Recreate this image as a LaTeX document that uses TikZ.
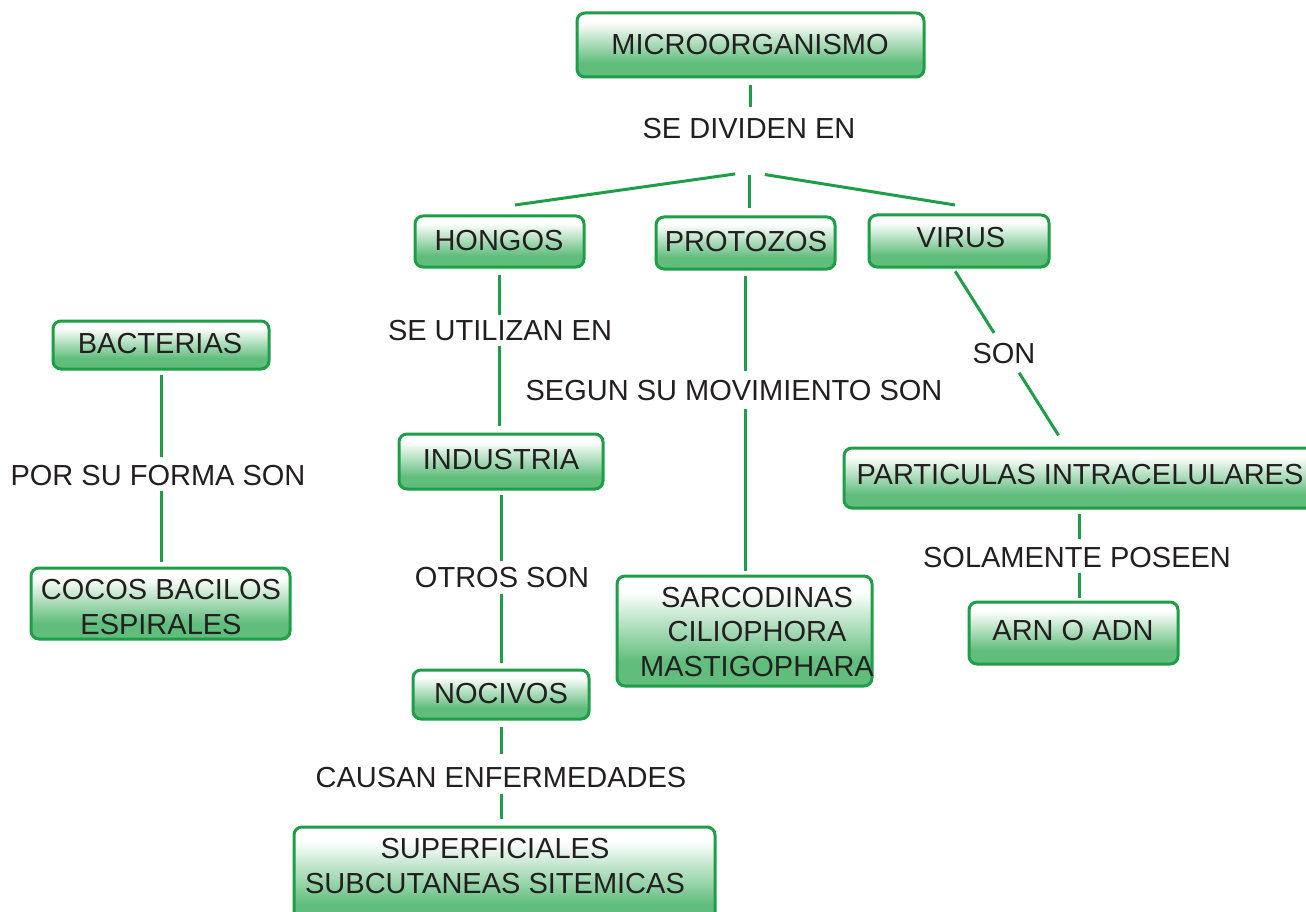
\documentclass[tikz,border=0pt]{standalone}
\usepackage{fontspec}
\setmainfont{Liberation Sans}
\usetikzlibrary{calc}
\definecolor{gline}{RGB}{31,158,72}
\definecolor{gbot}{RGB}{96,189,124}
\definecolor{ink}{RGB}{35,31,32}
\pgfdeclareverticalshading{boxshade}{100bp}{color(0bp)=(gbot); color(25bp)=(gbot); color(36bp)=(gbot); color(68bp)=(white); color(75bp)=(white); color(100bp)=(white)}
\begin{document}
\begin{tikzpicture}[x=1pt,y=-1pt,
  box/.style={draw=gline, line width=3pt, rounded corners=8pt, shade, shading=boxshade, inner sep=0pt, outer sep=0pt},
  txt/.style={font=\fontsize{29}{34.5}\selectfont, text=ink, inner sep=0pt, align=center},
  lbl/.style={font=\fontsize{29}{34.5}\selectfont, text=ink, inner sep=0pt, text height=20.8pt, text depth=0pt},
  conn/.style={draw=gline, line width=3pt}]
\clip (0,0) rectangle (1306,912);
\fill[white] (0,0) rectangle (1306,912);

% top
\node[box, minimum width=347pt, minimum height=64pt] (micro) at (750.5,45) {};
\node[txt] (micro-t) at (750,45) {MICROORGANISMO};
\node[lbl] (div) at (749,128) {SE DIVIDEN EN};
\coordinate (split) at (749,172);

% second row
\node[box, minimum width=169pt, minimum height=51pt] (hongos) at (499.5,241.5) {};
\node[txt] (hongos-t) at (499,241) {HONGOS};
\node[box, minimum width=179pt, minimum height=52pt] (prot) at (745.5,243) {};
\node[txt] (prot-t) at (746,242) {PROTOZOS};
\node[box, minimum width=180pt, minimum height=52pt] (virus) at (959,241) {};
\node[txt] (virus-t) at (961,238) {VIRUS};

% bacterias
\node[box, minimum width=216pt, minimum height=48pt] (bact) at (161,345) {};
\node[txt] (bact-t) at (160,344) {BACTERIAS};
\node[lbl] (forma) at (158,475) {POR SU FORMA SON};
\node[box, minimum width=259pt, minimum height=71pt] (cocos) at (160.5,603.5) {};
\node[txt] (cocos-t) at (161,607) {COCOS BACILOS\\ESPIRALES};

% hongos branch
\node[lbl] (util) at (500,330) {SE UTILIZAN EN};
\node[box, minimum width=204pt, minimum height=55pt] (indus) at (501,461.5) {};
\node[txt] (indus-t) at (501,460) {INDUSTRIA};
\node[lbl] (otros) at (502,577) {OTROS SON};
\node[box, minimum width=176pt, minimum height=49pt] (noc) at (501,694.5) {};
\node[txt] (noc-t) at (501,694) {NOCIVOS};
\node[lbl] (causan) at (501,777) {CAUSAN ENFERMEDADES};
\node[box, minimum width=421pt, minimum height=100pt] (sup) at (504.5,877) {};
\node[txt] (sup-t) at (495,866) {SUPERFICIALES\\SUBCUTANEAS SITEMICAS};

% protozos branch
\node[lbl] (mov) at (734,390) {SEGUN SU MOVIMIENTO SON};
\node[box, minimum width=255pt, minimum height=110pt] (sarc) at (744.5,631) {};
\node[txt] (sarc-t) at (757,632) {SARCODINAS\\CILIOPHORA\\MASTIGOPHARA};

% virus branch
\node[lbl] (son) at (1004,353) {SON};
\node[box, minimum width=471pt, minimum height=60pt] (part) at (1079.5,478) {};
\node[txt] (part-t) at (1080,475) {PARTICULAS INTRACELULARES};
\node[lbl] (sol) at (1077,557) {SOLAMENTE POSEEN};
\node[box, minimum width=209pt, minimum height=62pt] (arn) at (1073.5,633) {};
\node[txt] (arn-t) at (1073,631) {ARN O ADN};

% connectors
\draw[conn, shorten <=8pt, shorten >=10pt] (micro.south) -- (micro.south |- div.north);
\draw[conn, shorten <=14pt] (split) -- ($(hongos.north)+(15.5,-11)$);
\draw[conn, shorten <=3pt, shorten >=9pt] (split) -- (split |- prot.north);
\draw[conn, shorten <=16pt] (split) -- ($(virus.north)+(-4,-10)$);

\draw[conn, shorten <=6pt, shorten >=7pt] (bact.south) -- (bact.south |- forma.north);
\draw[conn, shorten <=5pt, shorten >=6pt] (forma.south -| bact.south) -- (cocos.north -| bact.south);

\draw[conn, shorten <=8pt, shorten >=4pt] (hongos.south) -- (hongos.south |- util.north);
\draw[conn, shorten <=5pt, shorten >=8pt] (util.south -| hongos.south) -- (indus.north -| hongos.south);

\draw[conn, shorten <=6pt, shorten >=5pt] (indus.south) -- (indus.south |- otros.north);
\draw[conn, shorten <=6pt, shorten >=7pt] (otros.south -| indus.south) -- (noc.north -| indus.south);

\draw[conn, shorten <=8pt, shorten >=12pt] (noc.south) -- (noc.south |- causan.north);
\draw[conn, shorten <=6pt, shorten >=8pt] (causan.south -| noc.south) -- (sup.north -| noc.south);

\draw[conn, shorten <=7pt, shorten >=8pt] (prot.south) -- (prot.south |- mov.north);
\draw[conn, shorten <=8pt, shorten >=5pt] (mov.south -| prot.south) -- (sarc.north -| prot.south);

\coordinate (va) at ($(virus.south)+(-6.5,0)$);
\coordinate (vb) at ($(part.north)+(-13,0)$);
\draw[conn, shorten <=5pt, shorten >=136pt] (va) -- (vb);
\draw[conn, shorten <=125pt, shorten >=15pt] (va) -- (vb);

\draw[conn, shorten <=6pt, shorten >=7pt] (part.south) -- (part.south |- sol.north);
\draw[conn, shorten <=5pt, shorten >=4pt] (sol.south -| part.south) -- (arn.north -| part.south);
\end{tikzpicture}
\end{document}
